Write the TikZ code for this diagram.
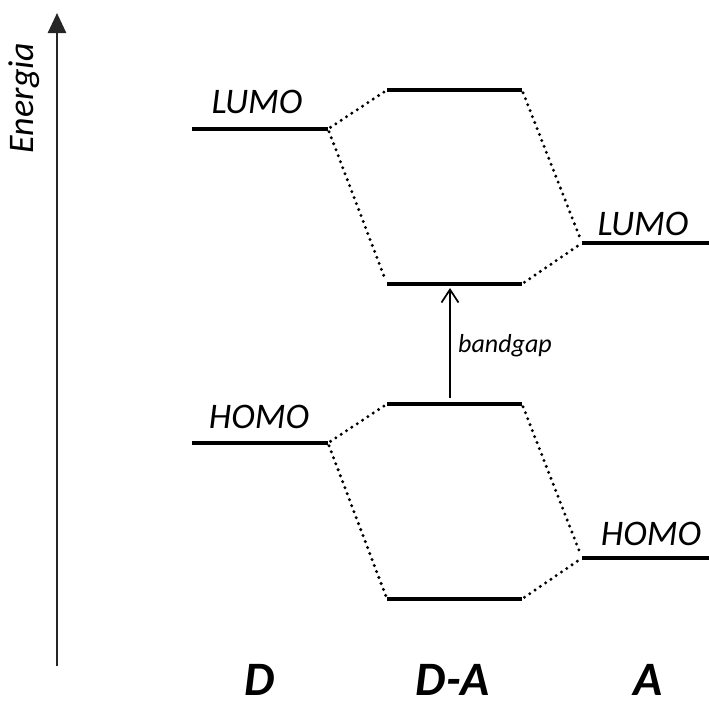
\documentclass[tikz,border=0pt]{standalone}
\usepackage{fontspec}
\setmainfont{Carlito}
\usetikzlibrary{arrows.meta,calc}

\tikzset{
  level/.style={line width=4.4pt},
  link/.style={line width=3.3pt, line cap=round, dash pattern=on 0pt off 6.4pt},
  lvlabel/.style={font=\fontsize{36}{36}\selectfont\itshape, anchor=base, inner sep=0pt},
  colabel/.style={font=\fontsize{48}{48}\selectfont\bfseries\itshape, anchor=base, inner sep=0pt},
}

\begin{document}
\begin{tikzpicture}[x=1pt, y=-1pt]
\useasboundingbox (0,0) rectangle (709,704);

% energy axis
\coordinate (ax0) at (57,666);
\coordinate (ax1) at (57,13);
\draw[line width=2.6pt, color=black!85, -{Triangle[length=20pt,width=18pt]}] (ax0) -- (ax1);
\node[lvlabel, rotate=90] (energia) at (33,98) {Energia};

% donor levels
\coordinate (dLa) at (192,129); \coordinate (dLb) at (328,129);
\coordinate (dHa) at (192,443); \coordinate (dHb) at (328,443);
% donor-acceptor levels
\coordinate (mUa) at (387,90);  \coordinate (mUb) at (522,90);
\coordinate (mLa) at (387,284); \coordinate (mLb) at (522,284);
\coordinate (mHa) at (387,404); \coordinate (mHb) at (522,404);
\coordinate (mBa) at (387,599); \coordinate (mBb) at (522,599);
% acceptor levels
\coordinate (aLa) at (582,243); \coordinate (aLb) at (709,243);
\coordinate (aHa) at (582,558); \coordinate (aHb) at (709,558);

\foreach \a/\b in {dLa/dLb, dHa/dHb, mUa/mUb, mLa/mLb, mHa/mHb, mBa/mBb, aLa/aLb, aHa/aHb}
  \draw[level] (\a) -- (\b);

% orbital mixing
\foreach \a/\b in {dLb/mUa, dLb/mLa, mUb/aLa, mLb/aLa, dHb/mHa, dHb/mBa, mHb/aHa, mBb/aHa}
  \draw[link] ($(\a)!3pt!(\b)$) -- ($(\b)!3pt!(\a)$);

% band gap
\coordinate (gap0) at (450,398);
\coordinate (gap1) at (450,288);
\draw[line width=1.7pt, -{Straight Barb[length=13pt,width=17pt,line width=1.7pt]}] (gap0) -- (gap1);
\node[font=\fontsize{26}{26}\selectfont\itshape, anchor=base west, inner sep=0pt] (bandgap) at (458,352) {bandgap};

% level labels
\node[lvlabel] (lumoD) at (257,113) {LUMO};
\node[lvlabel] (homoD) at (259,428) {HOMO};
\node[lvlabel] (lumoA) at (643,235) {LUMO};
\node[lvlabel] (homoA) at (651,545) {HOMO};

% column labels
\node[colabel] (colD)  at (260,695) {D};
\node[colabel] (colDA) at (453,695) {D-A};
\node[colabel] (colA)  at (648,695) {A};
\end{tikzpicture}
\end{document}
